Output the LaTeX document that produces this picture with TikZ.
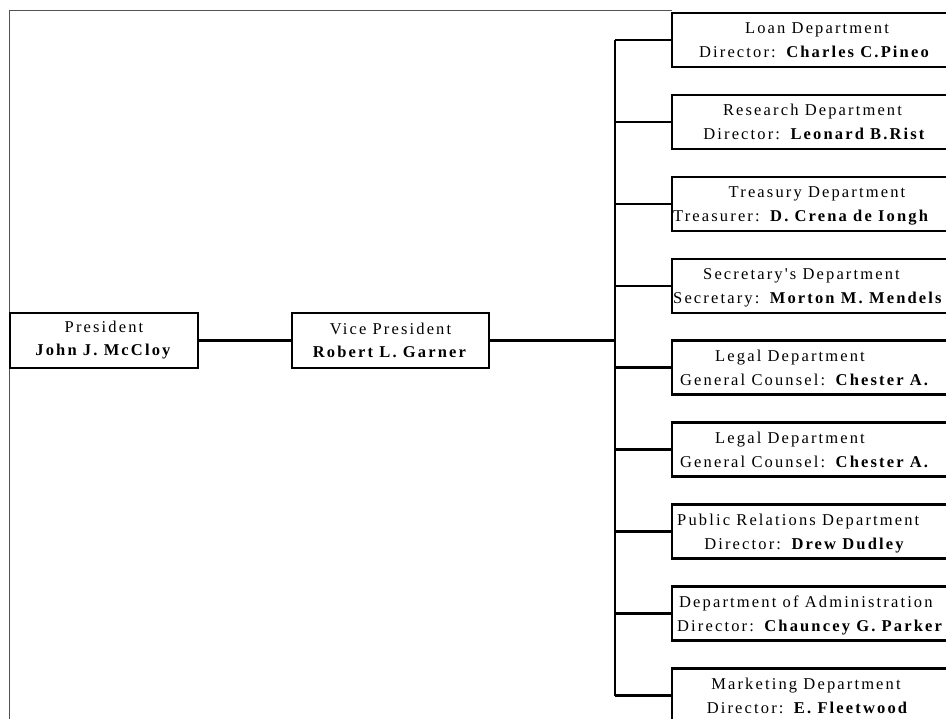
\documentclass[tikz,border=0pt]{standalone}
\usepackage{fontspec}
\setmainfont{Liberation Serif}[LetterSpace=13, Ligatures=TeXOff]
\begin{document}
\begin{tikzpicture}[x=1pt,y=-1pt,
  box/.style={draw=black, line width=2.5pt, rectangle, inner sep=0pt, fill=white},
  pbox/.style={box, minimum height=55pt, align=center, font=\fontsize{16.5}{23}\selectfont},
  dept/.style={box, minimum width=286pt, minimum height=54pt},
  txt/.style={inner sep=0pt, font=\fontsize{16.5}{23}\selectfont},
  link/.style={draw=black, line width=2.5pt},
  frame/.style={draw=black!68, line width=1pt}]
\useasboundingbox (0,0) rectangle (946,719);
\clip (0,0) rectangle (946,719);
\fill[white] (0,0) rectangle (946,719);
% outer frame
\coordinate (fa) at (9.5,719);
\coordinate (fb) at (9.5,11);
\coordinate (fc) at (672,11);
\draw[frame] (fa) -- (fb) -- (fc);
% main boxes
\node[pbox, minimum width=188pt] (pres) at (104,340.5) {President\\\textbf{John J. McCloy}};
\node[pbox, minimum width=197pt] (vp) at (390.5,340.5) {Vice President\\\textbf{Robert L. Garner}};
% departments
\node[dept] (d1) at (815,40) {};
\node[dept] (d2) at (815,122) {};
\node[dept] (d3) at (815,204) {};
\node[dept] (d4) at (815,286) {};
\node[dept] (d5) at (815,367.5) {};
\node[dept] (d6) at (815,449.5) {};
\node[dept] (d7) at (815,531.5) {};
\node[dept] (d8) at (815,613.5) {};
\node[dept] (d9) at (815,695.5) {};
% bus
\coordinate (bus) at (615,340.5);
\draw[link] (pres.east) -- (vp.west);
\draw[link] (vp.east) -- (bus);
\draw[link] (d1.west -| bus) -- (d9.west -| bus);
\foreach \i in {1,...,9}{\draw[link] (d\i.west -| bus) -- (d\i.west);}
% texts
\node[txt, anchor=base] (d1a) at (817,34) {Loan Department};
\node[txt, anchor=base] (d1b) at (815,58) {Director: \textbf{Charles C.Pineo}};
\node[txt, anchor=base] (d2a) at (812.5,116) {Research Department};
\node[txt, anchor=base] (d2b) at (815,140) {Director: \textbf{Leonard B.Rist}};
\node[txt, anchor=base] (d3a) at (817,198) {Treasury Department};
\node[txt, anchor=base west] (d3b) at (673,222) {Treasurer: \textbf{D. Crena de Iongh}};
\node[txt, anchor=base] (d4a) at (801.5,280) {Secretary's Department};
\node[txt, anchor=base west] (d4b) at (673,304) {Secretary: \textbf{Morton M. Mendels}};
\node[txt, anchor=base] (d5a) at (790,361.5) {Legal Department};
\node[txt, anchor=base west] (d5b) at (680,385.5) {General Counsel: \textbf{Chester A.}};
\node[txt, anchor=base] (d6a) at (790,443.5) {Legal Department};
\node[txt, anchor=base west] (d6b) at (680,467.5) {General Counsel: \textbf{Chester A.}};
\node[txt, anchor=base west] (d7a) at (677,525.5) {Public Relations Department};
\node[txt, anchor=base] (d7b) at (805,549.5) {Director: \textbf{Drew Dudley}};
\node[txt, anchor=base west] (d8a) at (679,607.5) {Department of Administration};
\node[txt, anchor=base west] (d8b) at (677,631.5) {Director: \textbf{Chauncey G. Parker}};
\node[txt, anchor=base] (d9a) at (806,689.5) {Marketing Department};
\node[txt, anchor=base] (d9b) at (808,713.5) {Director: \textbf{E. Fleetwood}};
\end{tikzpicture}
\end{document}
